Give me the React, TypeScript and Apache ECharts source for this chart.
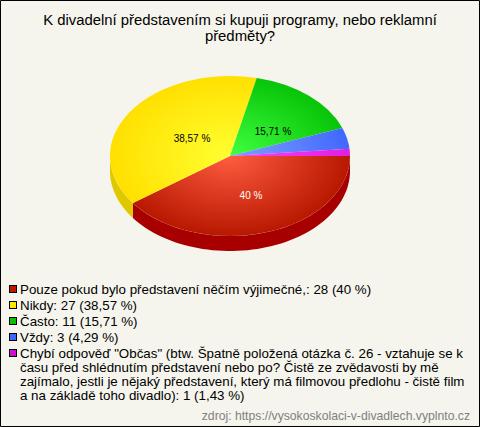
import React, { useEffect, useRef } from "react";
import * as echarts from "echarts";

const titleText = "K divadelní představením si kupuji programy, nebo reklamní\npředměty?";
const sourceText = "zdroj: https://vysokoskolaci-v-divadlech.vyplnto.cz";
const categories = [
  'Pouze pokud bylo představení něčím výjimečné,',
  'Nikdy',
  'Často',
  'Vždy',
  'Chybí odpověď "Občas" (btw. Špatně položená otázka č. 26 - vztahuje se k\nčasu před shlédnutím představení nebo po? Čistě ze zvědavosti by mě\nzajímalo, jestli je nějaký představení, který má filmovou předlohu - čistě film\na na základě toho divadlo)',
];
const counts = [28, 27, 11, 3, 1];
const percents = ["40", "38,57", "15,71", "4,29", "1,43"];
const sliceLabels = ["40 %", "38,57 %", "15,71 %", "", ""];
const labelColors = ["#ffffff", "#000000", "#000000", "#000000", "#000000"];
const labelOffsets = [[21, 39], [-38, -18], [43, -25], [0, 0], [0, 0]];
const centerColors = ["#ff5c40", "#ffff30", "#40ff40", "#80a0ff", "#ff40ff"];
const edgeColors = ["#b81800", "#ffe000", "#08c408", "#4068ff", "#e020e0"];
const wallColors = ["#a80000", "#e0c800", "#00a000", "#3050d0", "#b000b0"];
const swatchColors = ["#c01800", "#ffe800", "#08c008", "#4068ff", "#d010d0"];

const CX = 230, CY = 156, RX = 120, RY = 80, DEPTH = 15;
const total = counts.reduce((a, b) => a + b, 0);

function App() {
  const ref = useRef<HTMLDivElement>(null);
  useEffect(() => {
    document.body.style.margin = "0";
    const chart = echarts.init(ref.current!, null, { renderer: "svg" });
    const startOf = (i: number) => (counts.slice(0, i).reduce((a, b) => a + b, 0) / total) * Math.PI * 2;

    const wallItem = (i: number) => (_: any, api: any) => {
      const a0 = startOf(i);
      const a1 = a0 + (api.value(0) / total) * Math.PI * 2;
      const e = Math.min(a1, Math.PI);
      if (a0 >= Math.PI) return { type: "group", children: [] };
      const top: number[][] = [];
      const bot: number[][] = [];
      const n = 60;
      for (let k = 0; k <= n; k++) {
        const t = a0 + ((e - a0) * k) / n;
        const x = CX + RX * Math.cos(t), y = CY + RY * Math.sin(t);
        top.push([x, y]);
        bot.unshift([x, y + DEPTH]);
      }
      return { type: "polygon", shape: { points: top.concat(bot) }, style: { fill: wallColors[i] }, silent: true };
    };
    const sliceItem = (i: number) => (_: any, api: any) => {
      const a0 = startOf(i);
      const a1 = a0 + (api.value(0) / total) * Math.PI * 2;
      const children: any[] = [
        {
          type: "sector",
          x: CX, y: CY, scaleY: RY / RX,
          shape: { cx: 0, cy: 0, r0: 0, r: RX, startAngle: a0, endAngle: a1, clockwise: true },
          style: {
            fill: new echarts.graphic.RadialGradient(0, 0, RX, [
              { offset: 0, color: centerColors[i] },
              { offset: 1, color: edgeColors[i] },
            ], true),
          },
          silent: true,
        },
      ];
      if (sliceLabels[i]) {
        children.push({
          type: "text",
          x: CX + labelOffsets[i][0], y: CY + labelOffsets[i][1],
          style: {
            text: sliceLabels[i], fill: labelColors[i], align: "center", verticalAlign: "middle",
            font: '10px "Liberation Sans", Arial, sans-serif',
          },
          silent: true,
        });
      }
      return { type: "group", children };
    };

    const series: any[] = [];
    categories.forEach((name, i) => {
      series.push({ type: "custom", name: name + " wall", coordinateSystem: "none", data: [[counts[i]]], renderItem: wallItem(i), z: 1, silent: true });
    });
    categories.forEach((name, i) => {
      series.push({ type: "custom", name, coordinateSystem: "none", data: [[counts[i]]], renderItem: sliceItem(i), z: 2, silent: true });
    });

    const legendFont = '13.33px "Liberation Sans", Arial, sans-serif';
    const legendEls: any[] = [];
    const rowTops = [289, 305, 321, 337, 353];
    categories.forEach((name, i) => {
      legendEls.push({
        type: "rect", x: 9, y: rowTops[i] - 4,
        shape: { width: 8, height: 8 },
        style: { fill: "#000000" },
      });
      legendEls.push({
        type: "rect", x: 10, y: rowTops[i] - 3,
        shape: { width: 6, height: 6 },
        style: { fill: swatchColors[i] },
      });
      legendEls.push({
        type: "text", x: 20, y: rowTops[i] - 7,
        style: {
          text: `${name}: ${counts[i]} (${percents[i]} %)`,
          font: legendFont, lineHeight: 14, fill: "#000000",
        },
      });
    });

    chart.setOption({
      animation: false,
      backgroundColor: "#f5f5ed",
      title: {
        text: titleText, left: 235, top: 7, textAlign: "center",
        textStyle: { fontFamily: '"Liberation Sans", Arial, sans-serif', fontSize: 14.86, fontWeight: "normal", color: "#000000", lineHeight: 16 },
      },
      series,
      graphic: [
        { type: "rect", x: 0.5, y: 0.5, shape: { width: 479, height: 426 }, style: { fill: "none", stroke: "#000000", lineWidth: 1 }, silent: true },
        ...legendEls,
        { type: "text", x: 470, y: 410, style: { text: sourceText, align: "right", font: '12.2px "Liberation Sans", Arial, sans-serif', fill: "#808080" } },
      ],
    });
    return () => chart.dispose();
  }, []);
  return <div ref={ref} style={{ width: 480, height: 427 }} />;
}

export default App;
